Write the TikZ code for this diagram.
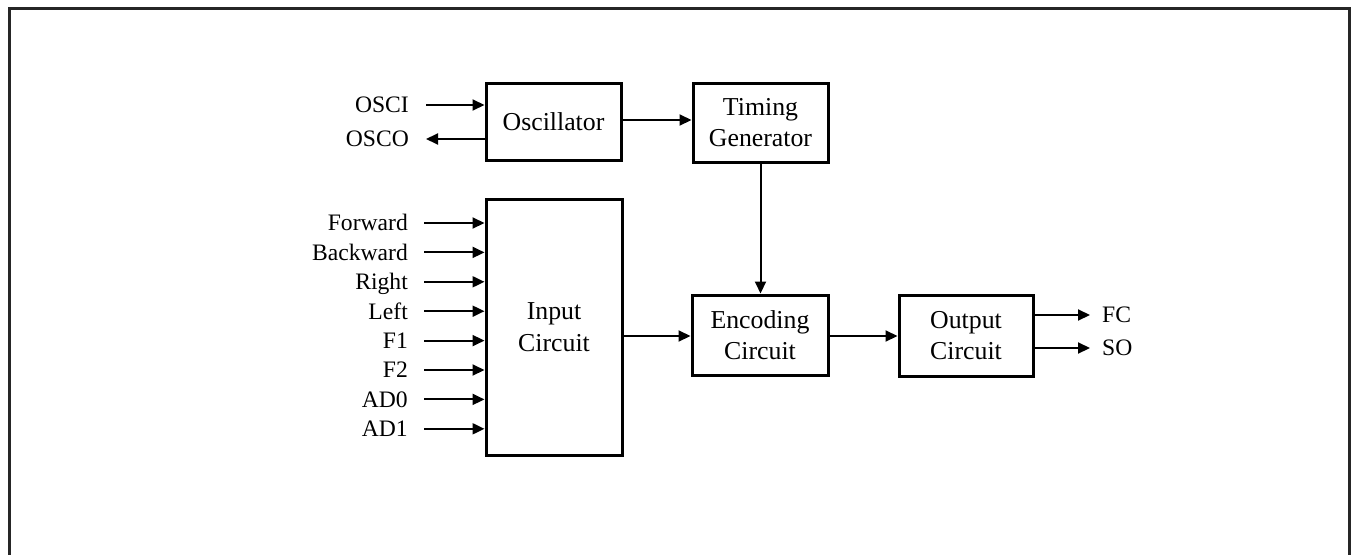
\documentclass[tikz,border=0pt]{standalone}
\usepackage{fontspec}
\setmainfont{Liberation Serif}
\usetikzlibrary{arrows.meta}
\begin{document}
\begin{tikzpicture}[x=1pt,y=-1pt,
  blk/.style={draw,line width=3pt,minimum width=135pt,inner sep=0pt,align=center,font=\fontsize{25.8}{31.5}\selectfont},
  lbl/.style={inner sep=0pt,text height=17.6pt,text depth=2pt,font=\fontsize{23.6}{28}\selectfont},
  conn/.style={line width=2pt,-{Triangle[length=12pt,width=11pt]}}]
\useasboundingbox (0,0) rectangle (1351,554);
\draw[line width=3pt,black!85] (9,560) -- (9,8) -- (1349,8) -- (1349,560);
% blocks
\node[blk,minimum height=77pt] (osc) at (553.5,121.5) {Oscillator};
\node[blk,minimum height=79pt] (tim) at (760.5,122.5) {Timing\\Generator};
\node[blk,minimum height=256pt,minimum width=136pt] (inp) at (554,327) {Input\\Circuit};
\node[blk,minimum height=80pt,minimum width=136pt] (enc) at (760,335) {Encoding\\Circuit};
\node[blk,minimum height=81pt,minimum width=134pt] (out) at (966,335.5) {Output\\Circuit};
% oscillator pins
\coordinate (oscI) at (426,105);
\coordinate (oscO) at (426,139);
\node[lbl,anchor=east] (loscI) at (409,105) {OSCI};
\node[lbl,anchor=east] (loscO) at (409,139) {OSCO};
\draw[conn] (oscI) -- (oscI -| osc.west);
\draw[conn] (oscO -| osc.west) -- (oscO);
% input pins
\foreach \t [count=\i from 0] in {Forward,Backward,Right,Left,F1,F2,AD0,AD1}{
  \coordinate (p\i) at (424,223+29.4*\i);
  \node[lbl,anchor=east] (l\i) at (408,223+29.4*\i) {\t};
  \draw[conn] (p\i) -- (p\i -| inp.west);
}
% internal connections
\draw[conn] (osc.east |- 0,120) -- (tim.west |- 0,120);
\draw[conn] (tim.south) -- (tim.south |- enc.north);
\draw[conn] (inp.east |- 0,336) -- (enc.west |- 0,336);
\draw[conn] (enc.east |- 0,336) -- (out.west |- 0,336);
% outputs
\coordinate (fc) at (1090,315);
\coordinate (so) at (1090,348);
\node[lbl,anchor=west] (lfc) at (1102,315) {FC};
\node[lbl,anchor=west] (lso) at (1102,348) {SO};
\draw[conn] (out.east |- fc) -- (fc);
\draw[conn] (out.east |- so) -- (so);
\end{tikzpicture}
\end{document}
